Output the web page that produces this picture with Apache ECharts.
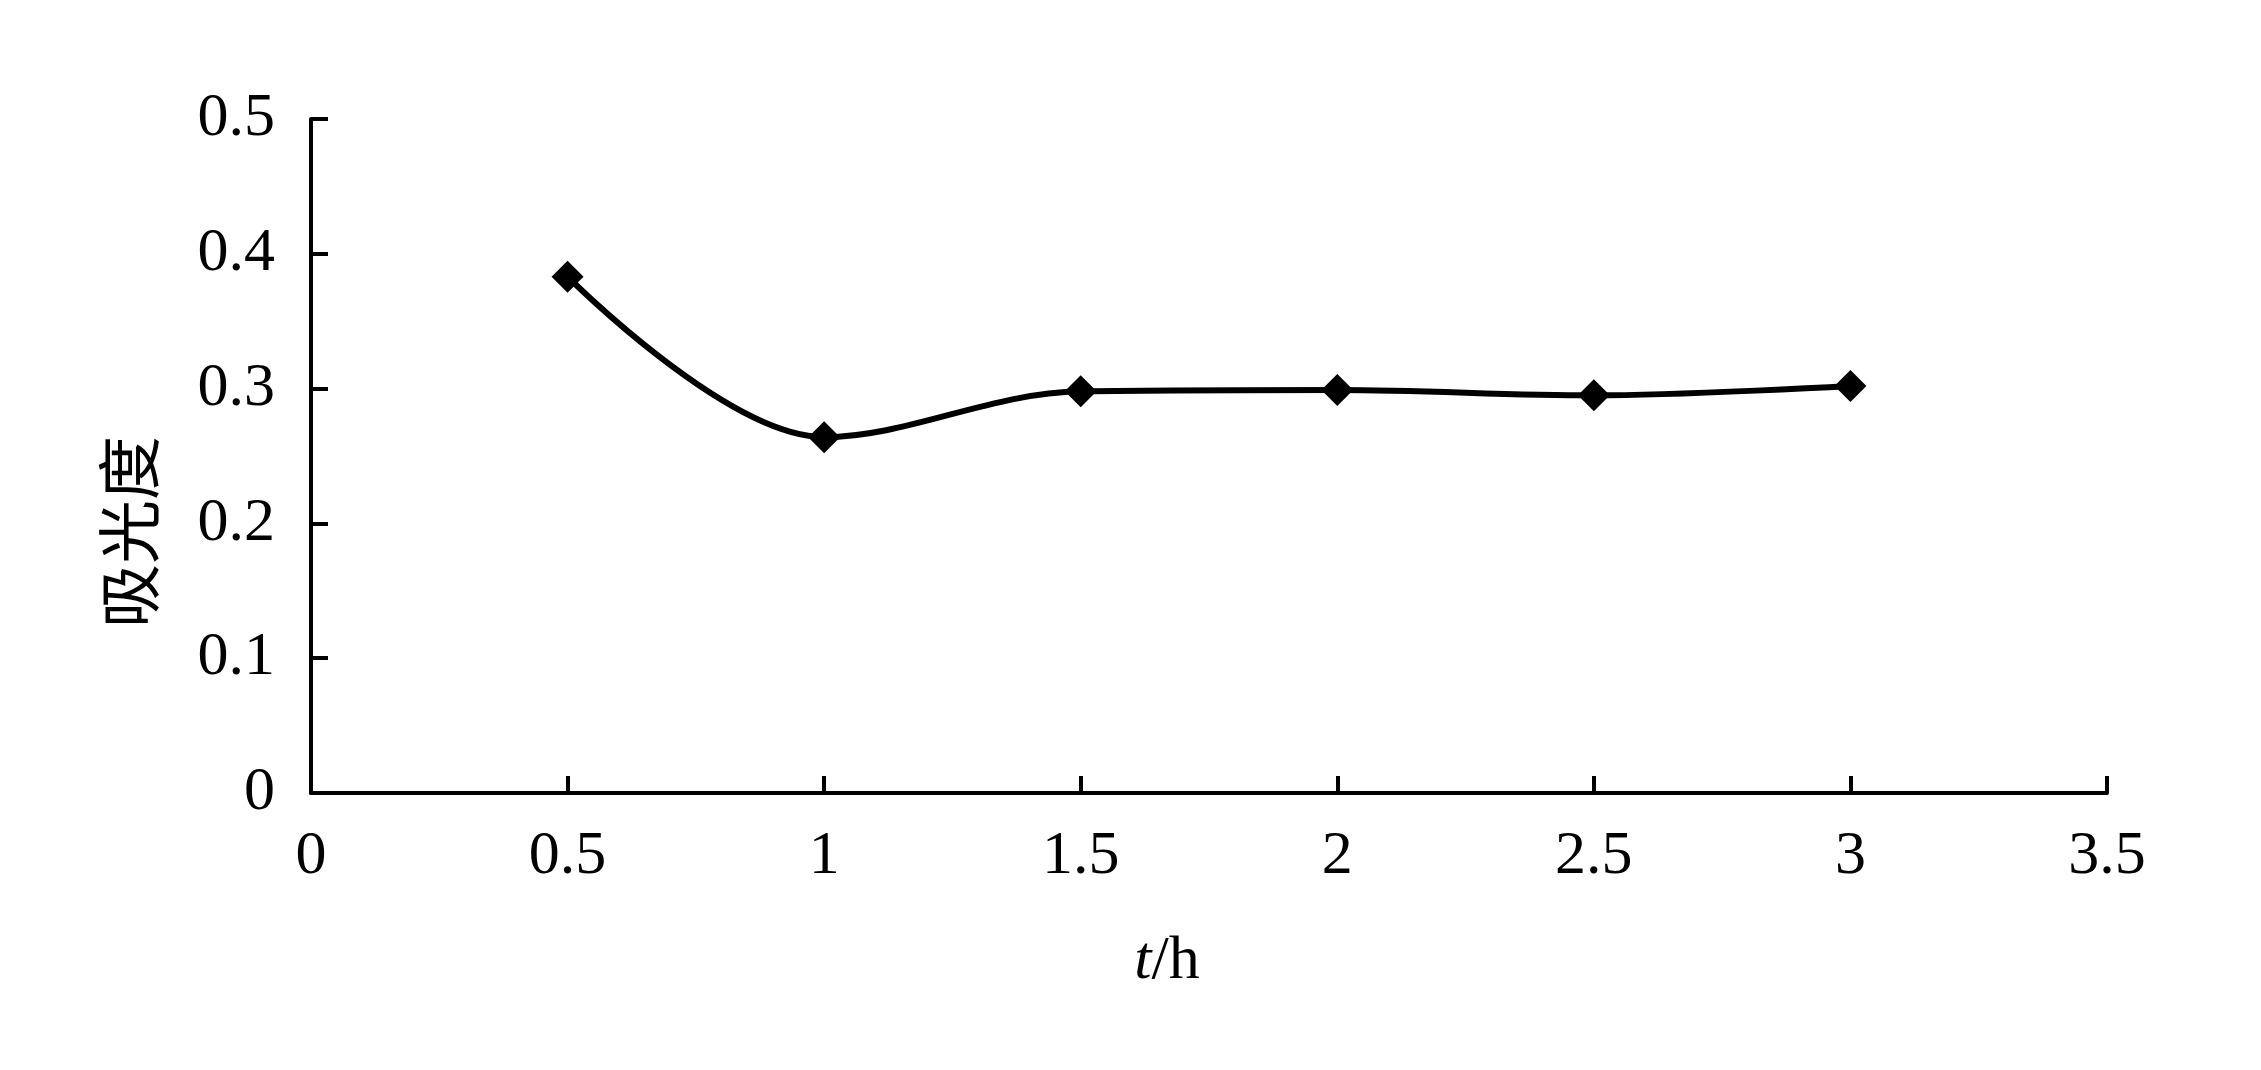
<!DOCTYPE html>
<html>
<head>
<meta charset="utf-8">
<script src="https://cdn.jsdelivr.net/npm/echarts@6/dist/echarts.min.js"></script>
<style>
html,body{margin:0;padding:0;background:#fff;}
#c{width:2261px;height:1070px;}
</style>
</head>
<body>
<div id="c"></div>
<script>
const timeHours = [0.5, 1, 1.5, 2, 2.5, 3];
const absorbance = [0.383, 0.264, 0.298, 0.299, 0.295, 0.302];
const xTitle = '{it|t}/h';
const yTitle = '吸光度';

const chart = echarts.init(document.getElementById('c'));
const axisFont = 'Liberation Serif';
chart.setOption({
  backgroundColor: '#fff',
  animation: false,
  grid: {left: 311, right: 154, top: 119, bottom: 277, containLabel: false},
  xAxis: {
    type: 'value', min: 0, max: 3.5, interval: 0.5,
    axisLine: {show: true, onZero: false, lineStyle: {color: '#000', width: 4}},
    axisTick: {show: true, inside: true, length: 17, lineStyle: {color: '#000', width: 4}},
    splitLine: {show: false},
    axisLabel: {color: '#000', fontFamily: axisFont, fontSize: 62, margin: 33},
    name: xTitle,
    nameLocation: 'middle',
    nameGap: 138,
    nameTextStyle: {
      color: '#000', fontFamily: axisFont, fontSize: 62,
      padding: [0, 84, 0, 0],
      rich: {it: {fontStyle: 'italic', fontFamily: axisFont, fontSize: 62, color: '#000'}}
    }
  },
  yAxis: {
    type: 'value', min: 0, max: 0.5, interval: 0.1,
    axisLine: {show: true, lineStyle: {color: '#000', width: 4}},
    axisTick: {show: true, inside: true, length: 17, lineStyle: {color: '#000', width: 4}},
    splitLine: {show: false},
    axisLabel: {color: '#000', fontFamily: axisFont, fontSize: 62, margin: 36},
    name: yTitle,
    nameLocation: 'middle',
    nameGap: 150,
    nameRotate: 90,
    nameTextStyle: {color: '#000', fontFamily: 'Noto Sans CJK SC', fontSize: 64, padding: [0, 152, 0, 0]}
  },
  series: [{
    type: 'line',
    data: timeHours.map((t, i) => [t, absorbance[i]]),
    smooth: 0.35,
    symbol: 'diamond',
    symbolSize: 32,
    lineStyle: {color: '#000', width: 6},
    itemStyle: {color: '#000'}
  }]
});
</script>
</body>
</html>
